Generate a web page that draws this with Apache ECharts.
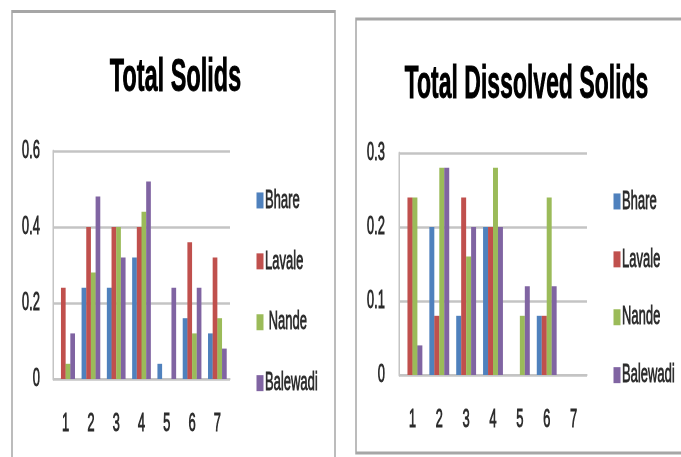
<!DOCTYPE html>
<html>
<head>
<meta charset="utf-8">
<script src="https://cdn.jsdelivr.net/npm/echarts@6/dist/echarts.min.js"></script>
<style>
  html, body { margin: 0; padding: 0; overflow: hidden; background: #fff; }
  /* Chart is laid out on a wide canvas and squeezed horizontally to the narrow, tall look of the panels */
  #chart { width: 1362px; height: 457px; transform: scaleX(0.5); transform-origin: 0 0; }
</style>
</head>
<body>
<div id="chart"></div>
<script>
// Sampling sites 1-7
const categories = ['1', '2', '3', '4', '5', '6', '7'];
const seriesNames = ['Bhare', 'Lavale', 'Nande', 'Balewadi'];
const colors = ['#4F81BD', '#C0504D', '#9BBB59', '#8064A2'];

// Total Solids
const tsBhare    = [0,    0.24, 0.24, 0.32, 0.04, 0.16, 0.12];
const tsLavale   = [0.24, 0.40, 0.40, 0.40, 0,    0.36, 0.32];
const tsNande    = [0.04, 0.28, 0.40, 0.44, 0,    0.12, 0.16];
const tsBalewadi = [0.12, 0.48, 0.32, 0.52, 0.24, 0.24, 0.08];

// Total Dissolved Solids
const tdsBhare    = [0,    0.20, 0.08, 0.20, 0,    0.08, 0];
const tdsLavale   = [0.24, 0.08, 0.24, 0.20, 0,    0.08, 0];
const tdsNande    = [0.24, 0.28, 0.16, 0.28, 0.08, 0.24, 0];
const tdsBalewadi = [0.04, 0.28, 0.20, 0.20, 0.12, 0.12, 0];

const FONT = "'Liberation Sans', Arial, sans-serif";
const textColor = '#2b2b2b';
const gridColor = '#C4C4C4';

// a thin outline of the same colour gives the labels a heavier stroke
const heavy = { textBorderColor: textColor, textBorderWidth: 0.9 };

const chart = echarts.init(document.getElementById('chart'), null, { renderer: 'canvas' });

function xAxisFor(gridIndex) {
  return {
    type: 'category', gridIndex, data: categories,
    axisLine: { show: true, lineStyle: { color: gridColor, width: 2 } },
    axisTick: { show: false },
    axisLabel: { color: textColor, fontFamily: FONT, fontSize: 26, margin: 32, ...heavy }
  };
}
function yAxisFor(gridIndex, max, interval, margin) {
  return {
    type: 'value', gridIndex, min: 0, max, interval,
    axisLine: { show: true, lineStyle: { color: gridColor, width: 3 } },
    axisTick: { show: false },
    splitLine: { show: true, lineStyle: { color: gridColor, width: 2.5 } },
    axisLabel: { color: textColor, fontFamily: FONT, fontSize: 26, margin, ...heavy }
  };
}
function barSeries(name, data, idx, axisIdx) {
  return {
    type: 'bar', name, data, xAxisIndex: axisIdx, yAxisIndex: axisIdx,
    itemStyle: { color: colors[idx] },
    barGap: '0%', barCategoryGap: '26%'
  };
}
function legendFor(left, top, gap, fmt) {
  return {
    orient: 'vertical', left, top, itemGap: gap,
    itemWidth: 14, itemHeight: 16, icon: 'rect',
    data: seriesNames,
    formatter: fmt,
    textStyle: { color: textColor, fontFamily: FONT, fontSize: 26, lineHeight: 26, padding: [0, 0, 0, -2], ...heavy }
  };
}

const tsData = [tsBhare, tsLavale, tsNande, tsBalewadi];
const tdsData = [tdsBhare, tdsLavale, tdsNande, tdsBalewadi];

chart.setOption({
  animation: false,
  backgroundColor: '#ffffff',
  color: colors,
  title: [
    { text: 'Total Solids', left: 346, top: 50, textAlign: 'center',
      textStyle: { fontFamily: FONT, fontWeight: 'bold', fontSize: 47, color: '#000',
        textBorderColor: '#000', textBorderWidth: 0.8 } },
    { text: 'Total Dissolved Solids', left: 1048, top: 57, textAlign: 'center',
      textStyle: { fontFamily: FONT, fontWeight: 'bold', fontSize: 46, color: '#000',
        textBorderColor: '#000', textBorderWidth: 0.8 } }
  ],
  legend: [
    legendFor(508, 182, 34, n => n === 'Nande' ? ' ' + n : n),
    legendFor(1222, 183, 31, n => n)
  ],
  grid: [
    { left: 106, top: 151, width: 354, height: 228 },
    { left: 798, top: 153, width: 376, height: 222 }
  ],
  xAxis: [xAxisFor(0), xAxisFor(1)],
  yAxis: [yAxisFor(0, 0.6, 0.2, 26), yAxisFor(1, 0.3, 0.1, 28)],
  series: [
    ...seriesNames.map((n, i) => barSeries(n, tsData[i], i, 0)),
    ...seriesNames.map((n, i) => barSeries(n, tdsData[i], i, 1))
  ],
  graphic: [
    { type: 'rect', silent: true, shape: { x: 24, y: 11.5, width: 646, height: 480 },
      style: { fill: null, stroke: '#A6A6A6', lineWidth: 3 } },
    { type: 'rect', silent: true, shape: { x: 712, y: 19, width: 720, height: 434 },
      style: { fill: null, stroke: '#A6A6A6', lineWidth: 3 } }
  ]
});
</script>
</body>
</html>
